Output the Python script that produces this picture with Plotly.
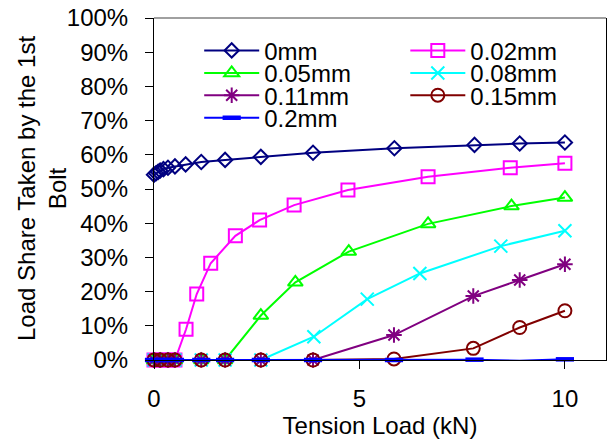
import plotly.graph_objects as go

# ---- data ----
series_names = ["0mm", "0.02mm", "0.05mm", "0.08mm", "0.11mm", "0.15mm", "0.2mm"]

x_0mm = [0, 0.05, 0.1, 0.15, 0.23, 0.34, 0.51, 0.77, 1.15, 1.73, 2.6, 3.87, 5.85, 7.8, 8.9, 10]
y_0mm = [54.2, 54.6, 55.0, 55.4, 55.8, 56.2, 56.6, 57.2, 57.9, 58.5, 59.4, 60.6, 61.9, 62.9, 63.3, 63.6]

x_002 = [0, 0.15, 0.34, 0.51, 0.78, 1.04, 1.38, 1.98, 2.57, 3.41, 4.72, 6.67, 8.67, 10]
y_002 = [0, 0, 0, 0, 9.0, 19.3, 28.3, 36.3, 40.9, 45.3, 49.7, 53.6, 56.2, 57.5]

x_005 = [0, 0.15, 0.34, 0.51, 1.15, 1.73, 2.6, 3.44, 4.74, 6.67, 8.7, 10]
y_005 = [0, 0, 0, 0, 0, 0, 13.0, 22.7, 31.7, 39.8, 45.0, 47.5]

x_008 = [0, 0.15, 0.34, 0.51, 1.15, 1.73, 2.6, 3.89, 5.19, 6.47, 8.44, 10]
y_008 = [0, 0, 0, 0, 0, 0, 0, 6.8, 17.8, 25.3, 33.3, 37.8]

x_011 = [0, 0.15, 0.34, 0.51, 1.15, 1.73, 2.6, 3.87, 5.84, 7.77, 8.9, 10]
y_011 = [0, 0, 0, 0, 0, 0, 0, 0, 7.3, 18.7, 23.4, 28.0]

x_015 = [0, 0.15, 0.34, 0.51, 1.15, 1.73, 2.6, 3.87, 5.84, 7.77, 8.9, 10]
y_015 = [0, 0, 0, 0, 0, 0, 0, 0, 0.3, 3.4, 9.5, 14.4]

x_02 = [0, 0.15, 0.34, 0.51, 1.15, 1.73, 2.6, 3.87, 5.84, 7.8, 8.9, 10]
y_02 = [0, 0, 0, 0, 0, 0, 0, 0, 0, 0.1, -0.2, 0.2]

x_ticks = [0, 5, 10]
y_ticks = [0, 10, 20, 30, 40, 50, 60, 70, 80, 90, 100]
y_ticktext = ["0%", "10%", "20%", "30%", "40%", "50%", "60%", "70%", "80%", "90%", "100%"]

x_title = "Tension Load (kN)"
y_title = "Load Share Taken by the 1st<br>Bolt"

xs = [x_0mm, x_002, x_005, x_008, x_011, x_015, x_02]
ys = [y_0mm, y_002, y_005, y_008, y_011, y_015, y_02]
colors = ["#000080", "#FF00FF", "#00FF00", "#00FFFF", "#800080", "#800000", "#0000FF"]
symbols = ["diamond-open", "square-open", "triangle-up-open", "x-thin-open",
           "asterisk-open", "circle-open", "line-ew-open"]
msizes = [11, 13, 13, 13, 13, 13, 13]
mwidths = [2, 2, 2, 2, 2, 2, 4.5]

FONT = "Liberation Sans, Arial, sans-serif"

fig = go.Figure()
for i, name in enumerate(series_names):
    fig.add_trace(go.Scatter(
        x=xs[i], y=ys[i], name=name, mode="lines+markers",
        line=dict(color=colors[i], width=2),
        marker=dict(symbol=symbols[i], size=msizes[i], color=colors[i],
                    line=dict(color=colors[i], width=mwidths[i])),
        legend="legend" if i == 0 else f"legend{i+1}",
        cliponaxis=False,
    ))

# legend placement (one legend per entry to mimic the compact Excel layout)
col_x = [0.10, 0.556]
row_y = [0.904, 0.838, 0.773, 0.707]
leg_layout = {}
for i in range(len(series_names)):
    key = "legend" if i == 0 else f"legend{i+1}"
    leg_layout[key] = dict(
        x=col_x[i % 2], y=row_y[i // 2], xanchor="left", yanchor="middle",
        bgcolor="rgba(0,0,0,0)", borderwidth=0,
        font=dict(family=FONT, size=24, color="black"),
        itemwidth=55,
    )

fig.update_layout(
    width=610, height=445,
    margin=dict(l=154, r=4, t=18, b=85),
    paper_bgcolor="white", plot_bgcolor="white",
    font=dict(family=FONT, size=24, color="black"),
    showlegend=True,
    **leg_layout,
    xaxis=dict(
        range=[0, 11], tickvals=x_ticks, ticks="outside", ticklen=8, tickwidth=1,
        tickcolor="black", showline=True, linecolor="black", linewidth=1,
        showgrid=False, zeroline=False, ticklabelstandoff=9, automargin=False,
        tickfont=dict(family=FONT, size=24, color="black"),
        title=dict(text=x_title, standoff=6,
                   font=dict(family=FONT, size=24, color="black")),
    ),
    yaxis=dict(
        range=[0, 100], tickvals=y_ticks, ticktext=y_ticktext, ticks="outside",
        ticklen=8, tickwidth=1, tickcolor="black", showline=True,
        linecolor="black", linewidth=1, mirror=True, showgrid=False,
        zeroline=False, ticklabelstandoff=12, automargin=False,
        tickfont=dict(family=FONT, size=24, color="black"),
    ),
    annotations=[dict(text=y_title, xref="paper", yref="paper", x=0, y=0.5,
                      xshift=-112, xanchor="center", yanchor="middle",
                      textangle=-90, showarrow=False,
                      font=dict(family=FONT, size=24, color="black"))],
    shapes=[dict(type="line", xref="paper", yref="paper", x0=0, x1=1, y0=1, y1=1,
                 line=dict(color="#808080", width=1.5))],
)

fig.write_html("out.html",
               config={"displayModeBar": False},
               post_script="document.body.style.margin='0';document.body.style.padding='0';")
